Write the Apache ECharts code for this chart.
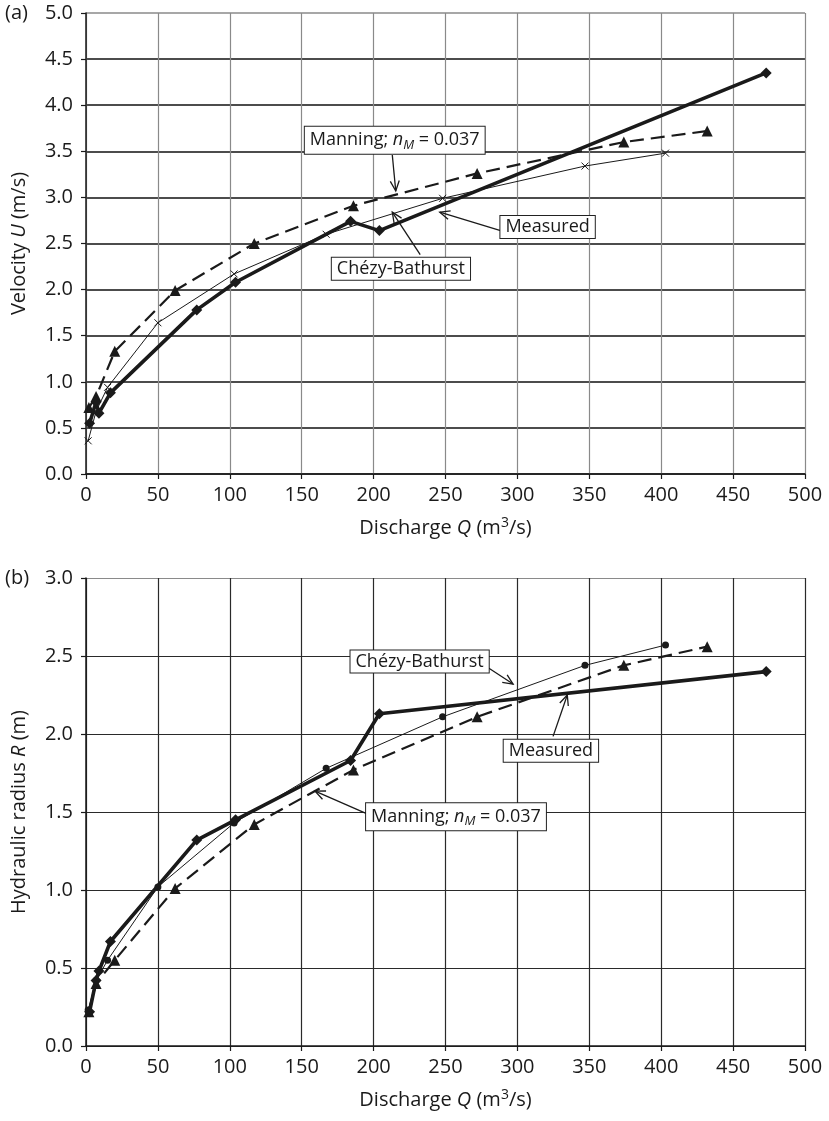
<!DOCTYPE html>
<html><head><meta charset="utf-8">
<script src="https://cdn.jsdelivr.net/npm/echarts@6/dist/echarts.min.js"></script>
<style>html,body{margin:0;padding:0;background:#fff}#c{width:829px;height:1121px}</style>
</head><body><div id="c"></div>
<script>
// ---- data ----
const xTicks = [0, 50, 100, 150, 200, 250, 300, 350, 400, 450, 500];
const uTicks = [0.0, 0.5, 1.0, 1.5, 2.0, 2.5, 3.0, 3.5, 4.0, 4.5, 5.0];
const rTicks = [0.0, 0.5, 1.0, 1.5, 2.0, 2.5, 3.0];

const measuredQ = [2.5, 7, 9, 17, 77, 104, 184, 204, 473];
const measuredU = [0.55, 0.78, 0.66, 0.88, 1.78, 2.08, 2.74, 2.64, 4.35];
const measuredR = [0.22, 0.42, 0.48, 0.67, 1.32, 1.45, 1.83, 2.13, 2.40];

const chezyQ = [1.5, 7, 15, 50, 103, 167, 248, 347, 403];
const chezyU = [0.36, 0.68, 0.94, 1.64, 2.17, 2.60, 2.99, 3.34, 3.48];
const chezyR = [0.23, 0.42, 0.55, 1.02, 1.43, 1.78, 2.11, 2.44, 2.57];

const manningQ = [2, 7, 20, 62, 117, 186, 272, 374, 432];
const manningU = [0.72, 0.84, 1.33, 1.99, 2.50, 2.91, 3.26, 3.60, 3.72];
const manningR = [0.22, 0.40, 0.55, 1.01, 1.42, 1.77, 2.11, 2.44, 2.56];

// ---- build ----
const FONT = 'Open Sans';
const INK = '#1a1a1a';
const FS = 20;
const zip = (a, b) => a.map((v, i) => [v, b[i]]);
const X_PATH = 'path://M0,0L10,10M10,0L0,10';

const chart = echarts.init(document.getElementById('c'), null, {renderer: 'canvas'});

function xAxisCfg(gi, vColor) {
  return {
    type: 'value', gridIndex: gi, min: xTicks[0], max: xTicks[xTicks.length - 1], interval: 50,
    name: '{t|Discharge }{i|Q}{t| (m}{s|3}{t|/s)}',
    nameLocation: 'middle', nameGap: 42,
    nameTextStyle: {
      rich: {
        t: {fontFamily: FONT, fontSize: FS, color: INK},
        i: {fontFamily: FONT, fontSize: FS, color: INK, fontStyle: 'italic'},
        s: {fontFamily: FONT, fontSize: 14, color: INK, padding: [0, 0, 10, 0]}
      }
    },
    axisLine: {show: true, onZero: false, lineStyle: {color: INK, width: 1.5}},
    axisTick: {show: true, inside: false, length: 5, lineStyle: {color: INK, width: 1.2}},
    axisLabel: {fontFamily: FONT, fontSize: FS, color: INK, margin: 11, hideOverlap: false,
      showMinLabel: true, showMaxLabel: true},
    splitLine: {show: true, lineStyle: {color: vColor, width: 1.2}}
  };
}
function yAxisCfg(gi, ticks, nameRich, hColors, hWidth) {
  return {
    type: 'value', gridIndex: gi, min: ticks[0], max: ticks[ticks.length - 1], interval: 0.5,
    name: nameRich, nameLocation: 'middle', nameGap: 57,
    nameTextStyle: {
      rich: {
        t: {fontFamily: FONT, fontSize: FS, color: INK},
        i: {fontFamily: FONT, fontSize: FS, color: INK, fontStyle: 'italic'}
      }
    },
    axisLine: {show: true, onZero: false, lineStyle: {color: INK, width: 1.5}},
    axisTick: {show: true, inside: false, length: 5, lineStyle: {color: INK, width: 1.2}},
    axisLabel: {fontFamily: FONT, fontSize: FS, color: INK, margin: 13,
      formatter: v => v.toFixed(1), showMinLabel: true, showMaxLabel: true},
    splitLine: {show: true, lineStyle: {color: hColors, width: hWidth}}
  };
}

const topH = uTicks.map((v, i) => i === uTicks.length - 1 ? '#8a8a8a' : '#111');
const botH = rTicks.map((v, i) => i === rTicks.length - 1 ? '#8a8a8a' : '#2a2a2a');

function seriesMeasured(gi, ys) {
  return {type: 'line', xAxisIndex: gi, yAxisIndex: gi, data: zip(measuredQ, ys),
    symbol: 'diamond', symbolSize: 11, showSymbol: true,
    lineStyle: {color: INK, width: 3.6}, itemStyle: {color: INK}, z: 5};
}
function seriesChezy(gi, ys, sym, size) {
  return {type: 'line', xAxisIndex: gi, yAxisIndex: gi, data: zip(chezyQ, ys),
    symbol: sym, symbolSize: size, showSymbol: true,
    lineStyle: {color: INK, width: 1},
    itemStyle: {color: INK, borderColor: INK, borderWidth: sym === X_PATH ? 1 : 0}, z: 4};
}
function seriesManning(gi, ys) {
  return {type: 'line', xAxisIndex: gi, yAxisIndex: gi, data: zip(manningQ, ys),
    symbol: 'triangle', symbolSize: 11, showSymbol: true,
    lineStyle: {color: INK, width: 2.2, type: [14, 7]}, itemStyle: {color: INK}, z: 3};
}

const option = {
  animation: false,
  backgroundColor: '#fff',
  grid: [
    {left: 86, right: 24, top: 13, height: 461, containLabel: false, outerBoundsMode: 'none'},
    {left: 86, right: 24, top: 578, height: 468, containLabel: false, outerBoundsMode: 'none'}
  ],
  xAxis: [xAxisCfg(0, '#8a8a8a'), xAxisCfg(1, '#2a2a2a')],
  yAxis: [
    yAxisCfg(0, uTicks, '{t|Velocity }{i|U}{t| (m/s)}', topH, 1.6),
    yAxisCfg(1, rTicks, '{t|Hydraulic radius }{i|R}{t| (m)}', botH, 1.1)
  ],
  series: [
    seriesManning(0, manningU), seriesChezy(0, chezyU, X_PATH, 7), seriesMeasured(0, measuredU),
    seriesManning(1, manningR), seriesChezy(1, chezyR, 'circle', 7), seriesMeasured(1, measuredR)
  ]
};
chart.setOption(option);

// ---- annotations (callout boxes + arrows), placed in data coordinates ----
const MAN = '{a|Manning; }{i|n}{s|M}{a| = 0.037}';
const notes = [
  {g: 0, text: MAN, box: [214.7, 3.62], from: [213, 3.46], tip: [215.4, 3.07]},
  {g: 0, text: '{a|Measured}', box: [321, 2.68], from: [288.3, 2.64], tip: [246, 2.84]},
  {g: 0, text: '{a|Chézy-Bathurst}', box: [219, 2.225], from: [232.4, 2.38], tip: [213, 2.84]},
  {g: 1, text: '{a|Chézy-Bathurst}', box: [232, 2.465], from: [278.9, 2.43], tip: [297, 2.32]},
  {g: 1, text: '{a|Measured}', box: [323.3, 1.893], from: [324.8, 1.985], tip: [334.7, 2.25]},
  {g: 1, text: MAN, box: [257.3, 1.47], from: [197.5, 1.48], tip: [159.3, 1.634]}
];
const rich = {
  a: {fontFamily: FONT, fontSize: 18, fill: INK, color: INK},
  i: {fontFamily: FONT, fontSize: 18, fill: INK, color: INK, fontStyle: 'italic'},
  s: {fontFamily: FONT, fontSize: 13, fill: INK, color: INK, fontStyle: 'italic', padding: [10, 0, 0, 0]}
};
const graphics = [];
notes.forEach(n => {
  const b = chart.convertToPixel({gridIndex: n.g}, n.box);
  const f = chart.convertToPixel({gridIndex: n.g}, n.from);
  const t = chart.convertToPixel({gridIndex: n.g}, n.tip);
  const ang = Math.atan2(t[1] - f[1], t[0] - f[0]);
  const L = 11, A = 0.42;
  const h1 = [t[0] - L * Math.cos(ang - A), t[1] - L * Math.sin(ang - A)];
  const h2 = [t[0] - L * Math.cos(ang + A), t[1] - L * Math.sin(ang + A)];
  graphics.push({type: 'line', shape: {x1: f[0], y1: f[1], x2: t[0], y2: t[1]},
    style: {stroke: INK, lineWidth: 1.3}, z: 20});
  graphics.push({type: 'polyline', shape: {points: [h1, t, h2]},
    style: {stroke: INK, lineWidth: 1.3, fill: null}, z: 20});
  graphics.push({type: 'text', x: b[0], y: b[1], z: 21,
    style: {text: n.text, rich: rich, align: 'center', verticalAlign: 'middle',
      backgroundColor: '#fff', borderColor: '#222', borderWidth: 1, padding: [2, 5, 2, 5]}});
});
// panel letters
const pa = chart.convertToPixel({gridIndex: 0}, [0, uTicks[uTicks.length - 1]]);
const pb = chart.convertToPixel({gridIndex: 1}, [0, rTicks[rTicks.length - 1]]);
graphics.push({type: 'text', x: 5, y: pa[1], style: {text: '(a)', fontFamily: FONT, fontSize: FS, fill: INK, verticalAlign: 'middle'}});
graphics.push({type: 'text', x: 5, y: pb[1], style: {text: '(b)', fontFamily: FONT, fontSize: FS, fill: INK, verticalAlign: 'middle'}});
chart.setOption({graphic: graphics});
</script>
</body></html>
